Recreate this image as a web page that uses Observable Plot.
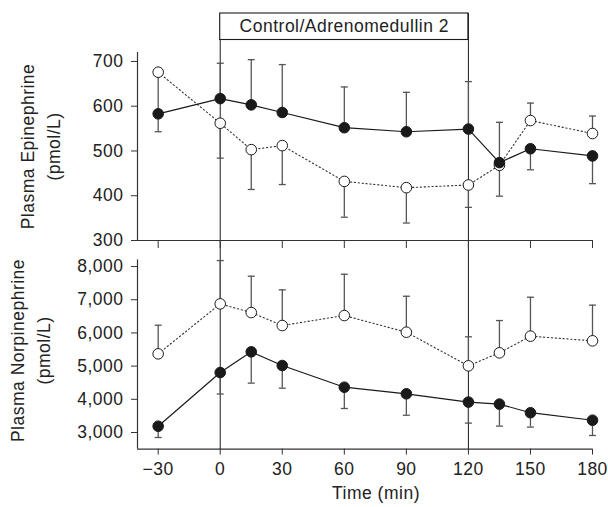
<!DOCTYPE html>
<html>
<head>
<meta charset="utf-8">
<script src="https://cdn.jsdelivr.net/npm/d3@7"></script>
<script src="https://cdn.jsdelivr.net/npm/@observablehq/plot@0.6"></script>
<style>
  html, body { margin: 0; padding: 0; background: white; }
  #chart { position: relative; width: 608px; height: 507px; }
  #chart svg { position: absolute; left: 0; top: 0; }
</style>
</head>
<body>
<div id="chart"></div>
<script>
// ---- data ----
const times = [-30, 0, 15, 30, 60, 90, 120, 135, 150, 180];

// Plasma epinephrine (pmol/L)
const epiFilled    = [583, 617, 603, 586, 552, 543, 549, 474, 505, 489];
const epiFilledEnd = [543, 696, 704, 693, 643, 631, 655, 564, 458, 427];
const epiOpen      = [676, 562, 503, 512, 432, 418, 424, 468, 568, 539];
const epiOpenEnd   = [590, 484, 414, 425, 352, 339, 374, 399, 607, 578];

// Plasma norepinephrine (pmol/L)
const neFilled    = [3190, 4807, 5430, 5018, 4365, 4166, 3916, 3855, 3596, 3370];
const neFilledEnd = [2850, 4160, 4488, 4335, 3723, 3520, 3283, 3193, 3163, 2910];
const neOpen      = [5370, 6875, 6614, 6223, 6524, 6021, 5008, 5400, 5902, 5762];
const neOpenEnd   = [6232, 8180, 7709, 7297, 7768, 7105, 5883, 6373, 7075, 6837];

const xTicks = [-30, 0, 30, 60, 90, 120, 150, 180];
const xDomain = [-40, 180];
const epiTicks = [300, 400, 500, 600, 700];
const epiDomain = [300, 720];
const neTicks = [3000, 4000, 5000, 6000, 7000, 8000];
const neDomain = [2500, 8200];
const treatmentWindow = [0, 120];
const windowLabel = "Control/Adrenomedullin 2";
const epiLabel = "Plasma Epinephrine\n(pmol/L)";
const neLabel = "Plasma Norpinephrine\n(pmol/L)";
const xLabel = "Time (min)";

// ---- layout ----
const W = 608, H = 507;
const mL = 137, mR = 16;
const style = {
  fontFamily: "'Liberation Sans', Arial, Helvetica, sans-serif",
  fontSize: "17.5px",
  letterSpacing: "0.5px",
  background: "transparent",
  overflow: "visible",
  color: "#222"
};
const ink = "#1a1a1a";
const errInk = "#555";

const rows = (vals, ends) => times.map((t, i) => ({t, v: vals[i], e: ends[i]}));

const cap = {
  draw(ctx, size) {
    const w = Math.sqrt(size / Math.PI);
    ctx.moveTo(-w, 0);
    ctx.lineTo(w, 0);
  }
};

function seriesMarks(filledRows, openRows) {
  return [
    Plot.line(openRows, {x: "t", y: "v", stroke: "#333", strokeWidth: 1.1, strokeDasharray: "1.3,2.6"}),
    Plot.line(filledRows, {x: "t", y: "v", stroke: ink, strokeWidth: 1.2}),
    Plot.ruleX(filledRows, {x: "t", y1: "v", y2: "e", stroke: errInk, strokeWidth: 1.3}),
    Plot.dot(filledRows, {x: "t", y: "e", symbol: cap, r: 3.5, fill: "none", stroke: errInk, strokeWidth: 1.3}),
    Plot.ruleX(openRows, {x: "t", y1: "v", y2: "e", stroke: errInk, strokeWidth: 1.3}),
    Plot.dot(openRows, {x: "t", y: "e", symbol: cap, r: 3.5, fill: "none", stroke: errInk, strokeWidth: 1.3}),
    Plot.dot(openRows, {x: "t", y: "v", r: 5.3, fill: "white", stroke: ink, strokeWidth: 1}),
    Plot.dot(filledRows, {x: "t", y: "v", r: 5.3, fill: ink, stroke: ink, strokeWidth: 1})
  ];
}

const chart = document.getElementById("chart");

// vertical lines marking the treatment window (span both panels)
chart.append(Plot.plot({
  width: W, height: H, style,
  marginLeft: mL, marginRight: mR, marginTop: 13, marginBottom: 58,
  x: {domain: xDomain, axis: null},
  marks: [Plot.ruleX(treatmentWindow, {stroke: ink, strokeWidth: 1})]
}));

// box with treatment label
chart.append(Plot.plot({
  width: W, height: H, style,
  marginLeft: mL, marginRight: mR, marginTop: 13, marginBottom: H - 39.5,
  x: {domain: xDomain, axis: null},
  marks: [
    Plot.rect([treatmentWindow], {x1: d => d[0], x2: d => d[1], fill: "white", stroke: ink, strokeWidth: 1.1}),
    Plot.text([windowLabel], {x: d => (treatmentWindow[0] + treatmentWindow[1]) / 2, frameAnchor: "middle", text: d => d, fill: "#222"})
  ]
}));

// top panel: epinephrine
chart.append(Plot.plot({
  width: W, height: H, style,
  marginLeft: mL, marginRight: mR, marginTop: 52, marginBottom: H - 240,
  x: {domain: xDomain},
  y: {domain: epiDomain},
  marks: [
    Plot.ruleX([xDomain[0]], {stroke: "#333", strokeWidth: 1.2}),
    Plot.ruleY([epiDomain[0]], {stroke: "#333", strokeWidth: 1.2}),
    Plot.axisY({ticks: epiTicks, tickSize: 6, tickPadding: 8, tickFormat: d3.format(","), label: null, stroke: "#333", fill: "#222"}),
    Plot.axisX({ticks: xTicks, tickSize: 8, tickFormat: () => "", label: null, stroke: "#333"}),
    ...seriesMarks(rows(epiFilled, epiFilledEnd), rows(epiOpen, epiOpenEnd)),
    Plot.text([epiLabel], {text: d => d, frameAnchor: "left", textAnchor: "middle", rotate: -90, dx: -99, dy: 0, lineHeight: 1.5, fill: "#222"})
  ]
}));

// bottom panel: norepinephrine
chart.append(Plot.plot({
  width: W, height: H, style,
  marginLeft: mL, marginRight: mR, marginTop: 259.4, marginBottom: H - 448.6,
  x: {domain: xDomain},
  y: {domain: neDomain},
  marks: [
    Plot.ruleX([xDomain[0]], {stroke: "#333", strokeWidth: 1.2}),
    Plot.ruleY([neDomain[0]], {stroke: "#333", strokeWidth: 1.2}),
    Plot.axisY({ticks: neTicks, tickSize: 6, tickPadding: 8, tickFormat: d3.format(","), label: null, stroke: "#333", fill: "#222"}),
    Plot.axisX({ticks: xTicks, tickSize: 6, tickPadding: 7, label: null, stroke: "#333", fill: "#222"}),
    ...seriesMarks(rows(neFilled, neFilledEnd), rows(neOpen, neOpenEnd)),
    Plot.text([neLabel], {text: d => d, frameAnchor: "left", textAnchor: "middle", rotate: -90, dx: -109, dy: -4, lineHeight: 1.5, fill: "#222"}),
    Plot.text([xLabel], {text: d => d, frameAnchor: "bottom", dx: 11, dy: 50, fill: "#222"})
  ]
}));
</script>
</body>
</html>
